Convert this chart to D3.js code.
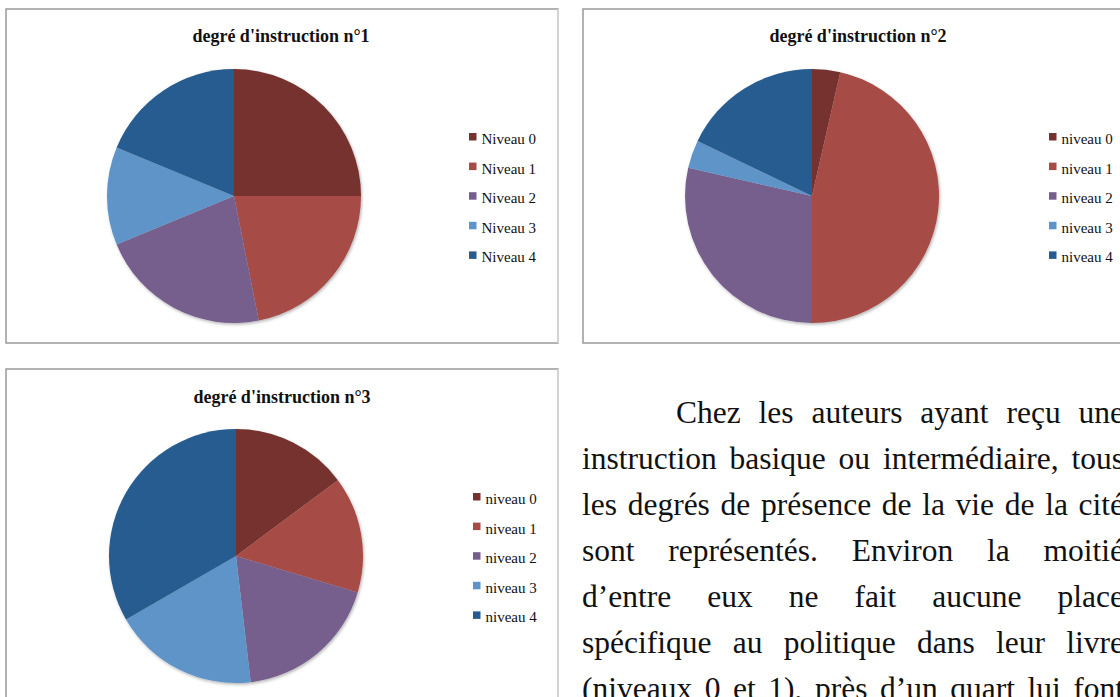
<!DOCTYPE html>
<html>
<head>
<meta charset="utf-8">
<script src="https://cdn.jsdelivr.net/npm/d3@7"></script>
<style>
  html, body { margin: 0; padding: 0; background: #fff; overflow: hidden; }
  body { width: 1120px; height: 697px; position: relative; }
  svg { position: absolute; left: 0; top: 0; }
  .para { position: absolute; left: 582px; width: 542px; font-family: "Liberation Serif", "Times New Roman", serif;
          font-size: 31.5px; line-height: 46px; color: #111; }
  .para div { text-align: justify; text-align-last: justify; white-space: nowrap; }
</style>
</head>
<body>
<svg width="1120" height="697"></svg>
<script>
// data
var titles = ["degré d'instruction n°1", "degré d'instruction n°2", "degré d'instruction n°3"];
var labels1 = ["Niveau 0", "Niveau 1", "Niveau 2", "Niveau 3", "Niveau 4"];
var labels23 = ["niveau 0", "niveau 1", "niveau 2", "niveau 3", "niveau 4"];
var counts1 = [8, 7, 7, 4, 6];
var counts2 = [1, 13, 8, 1, 5];
var counts3 = [4, 4, 5, 5, 9];
var sliceColors = ["#76322f", "#a64b45", "#765e8c", "#5f94c8", "#285c8f"];

var paraLines = [
  "Chez les auteurs ayant reçu une",
  "instruction basique ou intermédiaire, tous",
  "les degrés de présence de la vie de la cité",
  "sont représentés. Environ la moitié",
  "d’entre eux ne fait aucune place",
  "spécifique au politique dans leur livre",
  "(niveaux 0 et 1), près d’un quart lui font"
];

var svg = d3.select("svg");

// soft shadow under the pies
var defs = svg.append("defs");
defs.append("filter")
    .attr("id", "shadow")
    .attr("x", "-10%").attr("y", "-10%").attr("width", "120%").attr("height", "120%")
  .append("feDropShadow")
    .attr("dx", 1).attr("dy", 1.5)
    .attr("stdDeviation", 1.5)
    .attr("flood-color", "#000")
    .attr("flood-opacity", 0.3);

var charts = [
  { title: titles[0], labels: labels1, values: counts1,
    box: [6, 9, 552, 334], cx: 234, cy: 196, tx: 281, ty: 42, lx: 469, ly: 133 },
  { title: titles[1], labels: labels23, values: counts2,
    box: [583, 9, 600, 334], cx: 812, cy: 196, tx: 858, ty: 42, lx: 1049, ly: 133 },
  { title: titles[2], labels: labels23, values: counts3,
    box: [6, 369, 552, 400], cx: 236, cy: 556, tx: 282, ty: 403, lx: 473, ly: 493 }
];

var radius = 127;
var pie = d3.pie().sort(null);
var arc = d3.arc().innerRadius(0).outerRadius(radius);
var color = d3.scaleOrdinal().domain(d3.range(5)).range(sliceColors);

charts.forEach(function(c) {
  var g = svg.append("g");

  // chart frame
  g.append("rect")
      .attr("x", c.box[0]).attr("y", c.box[1])
      .attr("width", c.box[2]).attr("height", c.box[3])
      .attr("fill", "white")
      .attr("stroke", "#999")
      .attr("stroke-width", 1.5);
  g.append("line")
      .attr("x1", c.box[0] + c.box[2]).attr("x2", c.box[0] + c.box[2])
      .attr("y1", c.box[1]).attr("y2", c.box[1] + c.box[3])
      .attr("stroke", "#dcdcdc")
      .attr("stroke-width", 1.5);

  // title
  g.append("text")
      .attr("x", c.tx).attr("y", c.ty)
      .attr("text-anchor", "middle")
      .style("font-family", "'Liberation Serif', 'Times New Roman', serif")
      .style("font-weight", "bold")
      .style("font-size", "18px")
      .style("fill", "#111")
      .text(c.title);

  // pie
  var pg = g.append("g")
      .attr("transform", "translate(" + c.cx + "," + c.cy + ")")
      .attr("filter", "url(#shadow)");
  pg.selectAll("path")
    .data(pie(c.values))
    .enter()
    .append("path")
      .attr("d", arc)
      .attr("fill", function(d, i) { return color(i); });

  // legend
  var leg = g.selectAll(".leg")
    .data(c.labels)
    .enter()
    .append("g")
      .attr("transform", function(d, i) { return "translate(" + c.lx + "," + (c.ly + i * 29.6) + ")"; });
  leg.append("rect")
      .attr("width", 7.5).attr("height", 7.5)
      .attr("fill", function(d, i) { return color(i); });
  leg.append("text")
      .attr("x", 12.5).attr("y", 11)
      .style("font-family", "'Liberation Serif', 'Times New Roman', serif")
      .style("font-size", "15px")
      .style("fill", "#111")
      .text(function(d) { return d; });
});

// paragraph beside the third chart
var para = d3.select("body").append("div")
    .attr("class", "para")
    .style("top", "390px");
para.selectAll("div")
  .data(paraLines)
  .enter()
  .append("div")
    .style("text-indent", function(d, i) { return i === 0 ? "94px" : "0px"; })
    .text(function(d) { return d; });
</script>
</body>
</html>
